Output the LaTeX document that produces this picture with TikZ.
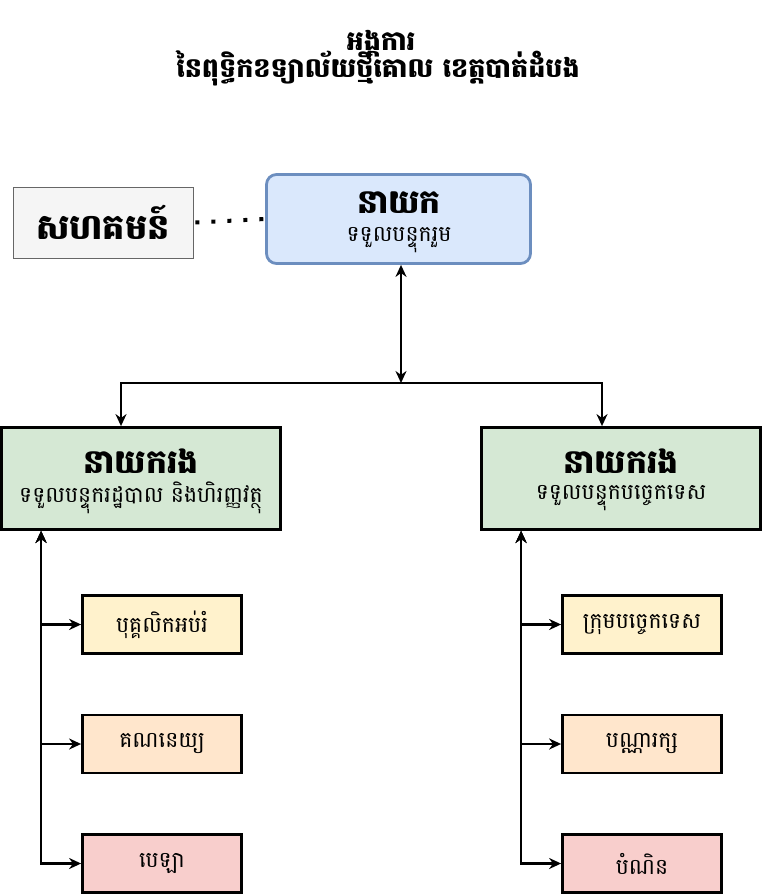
\documentclass[tikz,border=0pt]{standalone}
\usepackage{fontspec}
\newfontfamily\khmer[Script=Khmer]{Battambang}
\usetikzlibrary{positioning, arrows.meta}
\definecolor{greyfill}{HTML}{F5F5F5}
\definecolor{greyline}{HTML}{666666}
\definecolor{bluefill}{HTML}{DAE8FC}
\definecolor{blueline}{HTML}{6C8EBF}
\definecolor{greenfill}{HTML}{D5E8D4}
\definecolor{yellowfill}{HTML}{FFF2CC}
\definecolor{orangefill}{HTML}{FFE6CC}
\definecolor{redfill}{HTML}{F8CECC}
\begin{document}
\begin{tikzpicture}[x=1pt,y=-1pt,>={Stealth[length=12pt,width=11pt]},
    every node/.style={font=\khmer,inner sep=0pt},
    bigtxt/.style={font=\khmer\bfseries\fontsize{33}{36}\selectfont},
    smalltxt/.style={font=\khmer\fontsize{22}{26}\selectfont},
    dept/.style={draw=black,line width=2.8pt,fill=greenfill,
        minimum width=279pt,minimum height=102pt},
    staff/.style={draw=black,line width=2.8pt,minimum width=159pt,
        minimum height=58pt,font=\khmer\fontsize{22}{26}\selectfont},
    link/.style={line width=2.2pt}]
  \useasboundingbox (0,0) rectangle (762,896);
  % title
  \node[font=\khmer\bfseries\fontsize{27}{30}\selectfont] (title1) at (381,44) {អង្គការ};
  \node[font=\khmer\bfseries\fontsize{27}{30}\selectfont] (title2) at (378,68)
    {នៃពុទ្ធិកខទ្យាល័យថ្មីគោល ខេត្តបាត់ដំបង};
  % top level
  \node[draw=greyline,line width=0.8pt,fill=greyfill,minimum width=180pt,minimum height=71pt]
    (community) at (103,222.5) {};
  \node[font=\khmer\bfseries\fontsize{35}{40}\selectfont] at (community) {សហគមន៍};
  \node[draw=blueline,line width=2.8pt,fill=bluefill,rounded corners=10pt,
    minimum width=264pt,minimum height=89pt] (head) at (398.5,219) {};
  \node[bigtxt] (headname) at (399,203) {នាយក};
  \node[smalltxt] (headrole) at (399,240) {ទទួលបន្ទុករួម};
  \draw[line width=4pt,dash pattern=on 4pt off 12pt] ([xshift=2pt]community.east) -- (head.west);
  % deputies
  \node[dept] (admin) at (141,478.5) {};
  \node[bigtxt] (adminname) at (141,461) {នាយករង};
  \node[smalltxt] (adminrole) at (141,498) {ទទួលបន្ទុករដ្ឋបាល និងហិរញ្ញវត្ថុ};
  \node[dept] (tech) at (621,478.5) {};
  \node[bigtxt] (techname) at (621,461) {នាយករង};
  \node[smalltxt] (techrole) at (621,498) {ទទួលបន្ទុកបច្ចេកទេស};
  \coordinate (split) at (401,383);
  \draw[link,<->] (head.south -| split) -- (split);
  \draw[link,->] (split) -| ([xshift=-20pt]admin.north);
  \draw[link,->] (split) -| ([xshift=-19pt]tech.north);
  % staff
  \node[staff,fill=yellowfill] (educ) at (162,624.5) {បុគ្គលិកអប់រំ};
  \node[staff,fill=orangefill] (account) at (162,744) {គណនេយ្យ};
  \node[staff,fill=redfill] (cashier) at (162,863.5) {បេឡា};
  \node[staff,fill=yellowfill] (team) at (642,624.5) {ក្រុមបច្ចេកទេស};
  \node[staff,fill=orangefill] (library) at (642,744) {បណ្ណារក្ស};
  \node[staff,fill=redfill] (skill) at (642,863.5) {បំណិន};
  \foreach \s in {educ,account,cashier}
    \draw[link,<->] ([xshift=41pt]admin.south west) |- (\s.west);
  \foreach \s in {team,library,skill}
    \draw[link,<->] ([xshift=41pt]tech.south west) |- (\s.west);
\end{tikzpicture}
\end{document}
